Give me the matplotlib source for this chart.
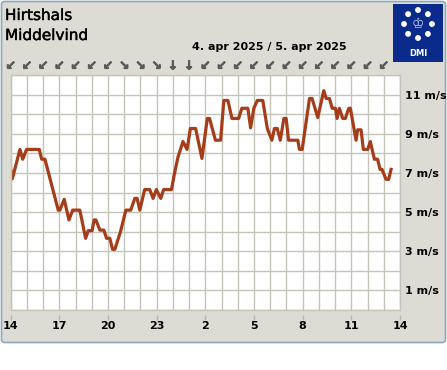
import numpy as np
import matplotlib
matplotlib.use('Agg')
import matplotlib.pyplot as plt
import matplotlib.patheffects as pe
from matplotlib.patches import FancyBboxPatch, Rectangle

# Hours after 14:00 on 4 apr and mean wind (m/s)
hours = [0.0, 0.1, 0.57, 0.74, 0.98, 1.76, 1.91, 2.11, 2.93, 3.03, 3.30, 3.59, 3.82,
         4.26, 4.62, 4.78, 5.02, 5.14, 5.25, 5.50, 5.74, 5.91, 6.11, 6.28, 6.42,
         6.77, 7.10, 7.40, 7.65, 7.79, 7.96, 8.26, 8.57, 8.78, 8.98, 9.25, 9.43,
         9.91, 10.08, 10.31, 10.62, 10.87, 11.08, 11.40, 11.79, 12.12, 12.26,
         12.62, 12.94, 13.14, 13.39, 13.64, 14.05, 14.25, 14.62, 14.79, 14.99,
         15.20, 15.54, 15.82, 16.10, 16.26, 16.43, 16.62, 16.84, 16.98, 17.13,
         17.70, 17.80, 17.97, 18.42, 18.58, 18.93, 19.30, 19.45, 19.65, 19.82,
         20.02, 20.12, 20.26, 20.47, 20.63, 20.84, 20.94, 21.29, 21.39, 21.60,
         21.74, 22.01, 22.17, 22.42, 22.62, 22.77, 22.89, 23.14, 23.30, 23.45]
wind = [7.2, 6.7, 8.2, 7.7, 8.2, 8.2, 7.7, 7.7, 5.1, 5.1, 5.65, 4.6, 5.1,
        5.1, 3.66, 4.05, 4.05, 4.6, 4.6, 4.08, 4.08, 3.66, 3.66, 3.1, 3.1,
        4.0, 5.1, 5.1, 5.7, 5.7, 5.1, 6.15, 6.15, 5.7, 6.15, 5.7, 6.15,
        6.15, 6.9, 7.8, 8.6, 8.2, 9.27, 9.27, 7.74, 9.78, 9.78,
        8.67, 8.67, 10.7, 10.7, 9.78, 9.78, 10.3, 10.3, 9.3, 10.3,
        10.7, 10.7, 9.27, 8.67, 9.27, 9.27, 8.67, 9.78, 9.78, 8.67,
        8.67, 8.2, 8.2, 10.8, 10.8, 9.83, 11.2, 10.8, 10.8, 10.3,
        10.3, 9.78, 10.3, 9.78, 9.78, 10.3, 10.3, 8.67, 9.2, 9.2,
        8.2, 8.2, 8.6, 7.7, 7.7, 7.18, 7.18, 6.67, 6.67, 7.18]

# wind direction (coming from, degrees) for each hour
wind_dir = [45, 45, 45, 45, 45, 45, 45, 315, 315, 315, 0, 0,
            45, 45, 45, 45, 45, 45, 45, 45, 45, 45, 45, 45]
arrow_glyph = {45: '\u2199', 315: '\u2198', 0: '\u2193'}

xtick_pos = [0, 3, 6, 9, 12, 15, 18, 21, 24]
xtick_labels = ['14', '17', '20', '23', '2', '5', '8', '11', '14']
ytick_pos = list(range(0, 13))
ytick_labels = [f'{v} m/s' if v % 2 == 1 else '' for v in ytick_pos]

W, H = 447, 370
fig = plt.figure(figsize=(W / 100, H / 100), dpi=100)
fig.patch.set_facecolor('white')

# grey rounded panel
panel = FancyBboxPatch((1.5 / W, (H - 342.5) / H), 444 / W, 341 / H,
                       boxstyle='round,pad=0,rounding_size=0.008',
                       transform=fig.transFigure, facecolor='#dcdcd4',
                       edgecolor='#8fa6bb', linewidth=1.2, zorder=-10)
fig.patches.append(panel)

ax = fig.add_axes([10.7 / W, (H - 310) / H, 389.3 / W, 235 / H])
ax.set_facecolor('white')
grid_col = '#c4c4b8'

ax.plot(hours, wind, color='#a63d1a', linewidth=2.3, solid_joinstyle='round')

ax.set_xlim(0, 24)
ax.set_ylim(0, 12)
ax.set_xticks(np.arange(0, 25, 1))
ax.set_xticklabels(['' for _ in range(25)])
ax.set_yticks(ytick_pos)
ax.set_yticklabels(ytick_labels)
ax.yaxis.tick_right()
ax.grid(True, color=grid_col, linewidth=1.0)
ax.set_axisbelow(True)
ax.tick_params(axis='both', length=0)
ax.tick_params(axis='y', pad=3.5, labelsize=8)
for lab in ax.get_yticklabels():
    lab.set_fontweight('bold')
for s in ax.spines.values():
    s.set_color(grid_col)
    s.set_linewidth(1.0)

# x labels and small ticks under the plot
for p, lab in zip(xtick_pos, xtick_labels):
    ax.text(p, -16 / 235, lab, transform=ax.get_xaxis_transform(),
            ha='center', va='center', fontsize=8, fontweight='bold')
ax.vlines(xtick_pos, -5 / 235, -10 / 235, transform=ax.get_xaxis_transform(),
          colors='#b8b8ac', linewidth=1.0, clip_on=False)

# wind arrows (pointing where the wind blows to)
for i, d in enumerate(wind_dir):
    ax.text(i, 1 + 9 / 235, arrow_glyph[d], transform=ax.get_xaxis_transform(),
            ha='center', va='center', fontsize=9, fontweight='bold',
            color='#5a5a5a',
            path_effects=[pe.withStroke(linewidth=0.6, foreground='#5a5a5a')])

# titles
title_fx = [pe.withStroke(linewidth=0.3, foreground='black')]
fig.text(5 / W, 1 - 20 / H, 'Hirtshals', fontsize=11, ha='left', va='baseline',
         path_effects=title_fx)
fig.text(5 / W, 1 - 40 / H, 'Middelvind', fontsize=11, ha='left', va='baseline',
         path_effects=title_fx)
fig.text(269 / W, 1 - 50 / H, '4. apr 2025 / 5. apr 2025', fontsize=8,
         fontweight='bold', ha='center', va='baseline')

# DMI logo, drawn in a pixel-based overlay axes
lax = fig.add_axes([393 / W, 1 - 62 / H, 50 / W, 58 / H])
lax.set_xlim(393, 443)
lax.set_ylim(62, 4)
lax.axis('off')
lax.add_patch(Rectangle((393, 4), 50, 58, facecolor='#0a2a8c', edgecolor='none'))
cx, cy, r = 418, 24, 14
ang = np.deg2rad(90 + np.arange(8) * 45)
lax.scatter(cx + r * np.cos(ang), cy - r * np.sin(ang), s=18, color='white',
            edgecolors='none')
lax.text(cx, cy, '\u2654', fontsize=10, color='#c8d0f0', ha='center', va='center')
lax.text(cx, 54, 'DMI', fontsize=6, fontweight='bold', color='white',
         ha='center', va='center')

fig.savefig('out.png', dpi=100, facecolor=fig.get_facecolor())
